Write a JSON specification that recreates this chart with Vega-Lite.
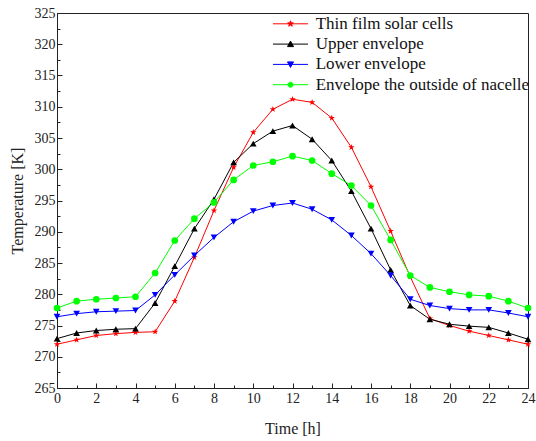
{
  "$schema": "https://vega.github.io/schema/vega-lite/v6.json",
  "width": 471,
  "height": 375,
  "autosize": {"type": "none"},
  "padding": {"left": 57, "top": 13, "right": 8, "bottom": 53},
  "background": "white",
  "config": {
    "font": "Liberation Serif",
    "view": {"stroke": "#222", "strokeWidth": 1},
    "axis": {"grid": false, "domainColor": "#222", "tickColor": "#222", "labelColor": "#222", "titleColor": "#222", "labelFontSize": 14, "titleFontSize": 16, "titleFontWeight": "normal", "labelFont": "Liberation Serif", "titleFont": "Liberation Serif"}
  },
  "datasets": {
    "temps": [
      {"h":0,"s":"Thin film solar cells","t":272.0},{"h":1,"s":"Thin film solar cells","t":272.7},{"h":2,"s":"Thin film solar cells","t":273.4},{"h":3,"s":"Thin film solar cells","t":273.7},{"h":4,"s":"Thin film solar cells","t":273.9},{"h":5,"s":"Thin film solar cells","t":274.0},{"h":6,"s":"Thin film solar cells","t":278.9},{"h":7,"s":"Thin film solar cells","t":285.9},{"h":8,"s":"Thin film solar cells","t":293.4},{"h":9,"s":"Thin film solar cells","t":300.3},{"h":10,"s":"Thin film solar cells","t":305.9},{"h":11,"s":"Thin film solar cells","t":309.6},{"h":12,"s":"Thin film solar cells","t":311.2},{"h":13,"s":"Thin film solar cells","t":310.7},{"h":14,"s":"Thin film solar cells","t":308.2},{"h":15,"s":"Thin film solar cells","t":303.5},{"h":16,"s":"Thin film solar cells","t":297.2},{"h":17,"s":"Thin film solar cells","t":290.1},{"h":18,"s":"Thin film solar cells","t":282.8},{"h":19,"s":"Thin film solar cells","t":276.1},{"h":20,"s":"Thin film solar cells","t":275.0},{"h":21,"s":"Thin film solar cells","t":274.1},{"h":22,"s":"Thin film solar cells","t":273.4},{"h":23,"s":"Thin film solar cells","t":272.7},{"h":24,"s":"Thin film solar cells","t":272.0},
      {"h":0,"s":"Upper envelope","t":272.9},{"h":1,"s":"Upper envelope","t":273.8},{"h":2,"s":"Upper envelope","t":274.2},{"h":3,"s":"Upper envelope","t":274.4},{"h":4,"s":"Upper envelope","t":274.5},{"h":5,"s":"Upper envelope","t":278.6},{"h":6,"s":"Upper envelope","t":284.5},{"h":7,"s":"Upper envelope","t":290.5},{"h":8,"s":"Upper envelope","t":295.2},{"h":9,"s":"Upper envelope","t":301.1},{"h":10,"s":"Upper envelope","t":304.1},{"h":11,"s":"Upper envelope","t":306.1},{"h":12,"s":"Upper envelope","t":307.0},{"h":13,"s":"Upper envelope","t":304.8},{"h":14,"s":"Upper envelope","t":301.4},{"h":15,"s":"Upper envelope","t":296.5},{"h":16,"s":"Upper envelope","t":290.5},{"h":17,"s":"Upper envelope","t":283.9},{"h":18,"s":"Upper envelope","t":278.2},{"h":19,"s":"Upper envelope","t":276.0},{"h":20,"s":"Upper envelope","t":275.2},{"h":21,"s":"Upper envelope","t":274.9},{"h":22,"s":"Upper envelope","t":274.7},{"h":23,"s":"Upper envelope","t":273.8},{"h":24,"s":"Upper envelope","t":272.8},
      {"h":0,"s":"Lower envelope","t":276.4},{"h":1,"s":"Lower envelope","t":276.9},{"h":2,"s":"Lower envelope","t":277.2},{"h":3,"s":"Lower envelope","t":277.3},{"h":4,"s":"Lower envelope","t":277.4},{"h":5,"s":"Lower envelope","t":279.9},{"h":6,"s":"Lower envelope","t":283.1},{"h":7,"s":"Lower envelope","t":286.2},{"h":8,"s":"Lower envelope","t":289.1},{"h":9,"s":"Lower envelope","t":291.6},{"h":10,"s":"Lower envelope","t":293.3},{"h":11,"s":"Lower envelope","t":294.2},{"h":12,"s":"Lower envelope","t":294.6},{"h":13,"s":"Lower envelope","t":293.6},{"h":14,"s":"Lower envelope","t":291.9},{"h":15,"s":"Lower envelope","t":289.4},{"h":16,"s":"Lower envelope","t":286.5},{"h":17,"s":"Lower envelope","t":283.0},{"h":18,"s":"Lower envelope","t":279.2},{"h":19,"s":"Lower envelope","t":278.2},{"h":20,"s":"Lower envelope","t":277.7},{"h":21,"s":"Lower envelope","t":277.5},{"h":22,"s":"Lower envelope","t":277.5},{"h":23,"s":"Lower envelope","t":277.0},{"h":24,"s":"Lower envelope","t":276.4},
      {"h":0,"s":"Envelope the outside of nacelle","t":277.8},{"h":1,"s":"Envelope the outside of nacelle","t":278.9},{"h":2,"s":"Envelope the outside of nacelle","t":279.2},{"h":3,"s":"Envelope the outside of nacelle","t":279.4},{"h":4,"s":"Envelope the outside of nacelle","t":279.6},{"h":5,"s":"Envelope the outside of nacelle","t":283.4},{"h":6,"s":"Envelope the outside of nacelle","t":288.6},{"h":7,"s":"Envelope the outside of nacelle","t":292.1},{"h":8,"s":"Envelope the outside of nacelle","t":294.7},{"h":9,"s":"Envelope the outside of nacelle","t":298.3},{"h":10,"s":"Envelope the outside of nacelle","t":300.6},{"h":11,"s":"Envelope the outside of nacelle","t":301.2},{"h":12,"s":"Envelope the outside of nacelle","t":302.1},{"h":13,"s":"Envelope the outside of nacelle","t":301.4},{"h":14,"s":"Envelope the outside of nacelle","t":299.3},{"h":15,"s":"Envelope the outside of nacelle","t":297.4},{"h":16,"s":"Envelope the outside of nacelle","t":294.2},{"h":17,"s":"Envelope the outside of nacelle","t":288.7},{"h":18,"s":"Envelope the outside of nacelle","t":283.0},{"h":19,"s":"Envelope the outside of nacelle","t":281.1},{"h":20,"s":"Envelope the outside of nacelle","t":280.4},{"h":21,"s":"Envelope the outside of nacelle","t":279.9},{"h":22,"s":"Envelope the outside of nacelle","t":279.7},{"h":23,"s":"Envelope the outside of nacelle","t":278.9},{"h":24,"s":"Envelope the outside of nacelle","t":277.8}
    ]
  },
  "data": {"name": "temps"},
  "encoding": {
    "x": {
      "field": "h", "type": "quantitative", "title": "Time [h]",
      "scale": {"domain": [0, 24], "nice": false, "zero": false},
      "axis": {
        "values": [0,1,2,3,4,5,6,7,8,9,10,11,12,13,14,15,16,17,18,19,20,21,22,23,24],
        "labelExpr": "datum.value % 2 == 0 ? datum.label : ''",
        "tickSize": {"condition": {"test": "datum.value % 2 == 0", "value": -5}, "value": -3},
        "labelPadding": 8,
        "labelFlush": false,
        "titlePadding": 15
      }
    },
    "y": {
      "field": "t", "type": "quantitative", "title": "Temperature [K]",
      "scale": {"domain": [265, 325], "nice": false, "zero": false},
      "axis": {
        "values": [265,267.5,270,272.5,275,277.5,280,282.5,285,287.5,290,292.5,295,297.5,300,302.5,305,307.5,310,312.5,315,317.5,320,322.5,325],
        "labelExpr": "datum.value % 5 == 0 ? datum.label : ''",
        "tickSize": {"condition": {"test": "datum.value % 5 == 0", "value": -5}, "value": -3},
        "labelPadding": 7,
        "labelFlush": false,
        "titlePadding": 9
      }
    }
  },
  "resolve": {"scale": {"color": "independent", "shape": "independent", "stroke": "independent"}, "legend": {"color": "independent", "shape": "independent", "stroke": "independent"}},
  "layer": [
    {
      "mark": {"type": "line", "strokeWidth": 1},
      "encoding": {
        "color": {"field": "s", "type": "nominal", "legend": null,
          "scale": {"domain": ["Thin film solar cells", "Upper envelope", "Lower envelope", "Envelope the outside of nacelle"], "range": ["#ff0000", "#000000", "#0000ff", "#00ff00"]}}
      }
    },
    {
      "mark": {"type": "point", "filled": true, "opacity": 1, "size": 45},
      "encoding": {
        "color": {"field": "s", "type": "nominal", "legend": null,
          "scale": {"domain": ["Thin film solar cells", "Upper envelope", "Lower envelope", "Envelope the outside of nacelle"], "range": ["#ff0000", "#000000", "#0000ff", "#00ff00"]}},
        "shape": {
          "field": "s", "type": "nominal", "legend": null,
          "scale": {"domain": ["Thin film solar cells", "Upper envelope", "Lower envelope", "Envelope the outside of nacelle"], "range": ["M0,-1L0.235,-0.324L0.951,-0.309L0.380,0.124L0.588,0.809L0,0.4L-0.588,0.809L-0.380,0.124L-0.951,-0.309L-0.235,-0.324Z", "triangle-up", "triangle-down", "circle"]}
        }
      }
    },
    {
      "mark": {"type": "point", "filled": true, "opacity": 0, "size": 100},
      "encoding": {
        "color": {"field": "s", "type": "nominal", "title": null,
          "scale": {"domain": ["Thin film solar cells", "Upper envelope", "Lower envelope", "Envelope the outside of nacelle"], "range": ["#ff0000", "#000000", "#0000ff", "#00ff00"]},
          "legend": {
            "title": null, "orient": "none", "legendX": 225, "legendY": 2.3, "padding": 0,
            "symbolSize": 100, "symbolOpacity": 1, "symbolStrokeWidth": 1,
            "labelOffset": 16.7, "labelFontSize": 17, "labelColor": "#111", "labelFont": "Liberation Serif", "labelLimit": 300, "rowPadding": 2.3
          }
        },
        "stroke": {"field": "s", "type": "nominal", "title": null,
          "scale": {"domain": ["Thin film solar cells", "Upper envelope", "Lower envelope", "Envelope the outside of nacelle"], "range": ["#ff0000", "#000000", "#0000ff", "#00ff00"]},
          "legend": {
            "title": null, "orient": "none", "legendX": 225, "legendY": 2.3, "padding": 0,
            "symbolSize": 100, "symbolOpacity": 1, "symbolStrokeWidth": 1,
            "labelOffset": 16.7, "labelFontSize": 17, "labelColor": "#111", "labelFont": "Liberation Serif", "labelLimit": 300, "rowPadding": 2.3
          }
        },
        "shape": {
          "field": "s", "type": "nominal", "title": null,
          "scale": {"domain": ["Thin film solar cells", "Upper envelope", "Lower envelope", "Envelope the outside of nacelle"], "range": [
            "M-3.5,0H3.5M0,-0.6L0.141,-0.194L0.571,-0.185L0.228,0.074L0.353,0.485L0,0.24L-0.353,0.485L-0.228,0.074L-0.571,-0.185L-0.141,-0.194Z",
            "M-3.5,0H3.5M0,-0.6L0.6,0.5L-0.6,0.5Z",
            "M-3.5,0H3.5M0,0.6L0.6,-0.5L-0.6,-0.5Z",
            "M-3.5,0H3.5M0.5,0A0.5,0.5,0,1,1,-0.5,0A0.5,0.5,0,1,1,0.5,0Z"]},
          "legend": {
            "title": null, "orient": "none", "legendX": 225, "legendY": 2.3, "padding": 0,
            "symbolSize": 100, "symbolOpacity": 1, "symbolStrokeWidth": 1,
            "labelOffset": 16.7, "labelFontSize": 17, "labelColor": "#111", "labelFont": "Liberation Serif", "labelLimit": 300, "rowPadding": 2.3
          }
        }
      }
    }
  ]
}
